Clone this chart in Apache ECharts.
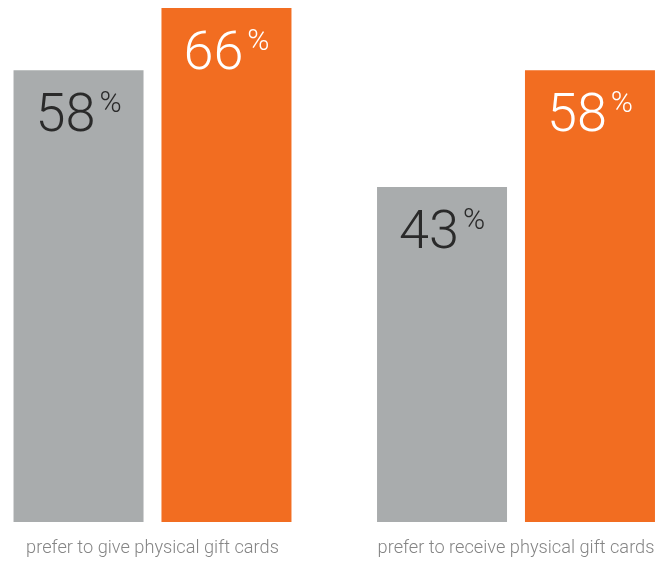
<!DOCTYPE html>
<html>
<head>
<meta charset="utf-8">
<script src="https://cdn.jsdelivr.net/npm/echarts@6/dist/echarts.min.js"></script>
<style>
  html, body { margin: 0; padding: 0; background: #fff; }
  #chart { width: 663px; height: 561px; }
</style>
</head>
<body>
<div id="chart"></div>
<script>
// gift card preference, % of respondents
var categories = ['prefer to give physical gift cards', 'prefer to receive physical gift cards'];
var grayValues = [58, 43];
var orangeValues = [66, 58];

function pctLabel(color) {
  return {
    show: true,
    position: 'insideTop',
    distance: 19,
    formatter: function (p) { return '{n|' + p.value + '}{p|%}'; },
    rich: {
      n: { fontSize: 54, fontWeight: 300, color: color, fontFamily: 'Roboto', lineHeight: 56 },
      p: { fontSize: 30, fontWeight: 300, color: color, fontFamily: 'Roboto', verticalAlign: 'top', padding: [0, 0, 0, 4], lineHeight: 56 }
    }
  };
}

var chart = echarts.init(document.getElementById('chart'));
chart.setOption({
  animation: false,
  grid: { left: -29.25, width: 727, top: 8, bottom: 39, outerBoundsMode: 'none', containLabel: false },
  xAxis: {
    type: 'category',
    data: categories,
    axisLine: { show: false },
    axisTick: { show: false },
    axisLabel: { color: '#858585', fontSize: 18.2, fontFamily: 'Roboto', fontWeight: 300, margin: 17 }
  },
  yAxis: { type: 'value', min: 0, max: 66, show: false, splitLine: { show: false } },
  series: [
    { type: 'bar', data: grayValues, barWidth: 130, barGap: '13.8%', itemStyle: { color: '#A9ACAD' }, label: pctLabel('#2a2a2a') },
    { type: 'bar', data: orangeValues, barWidth: 130, itemStyle: { color: '#F26D21' }, label: pctLabel('#ffffff') }
  ]
});
</script>
</body>
</html>
